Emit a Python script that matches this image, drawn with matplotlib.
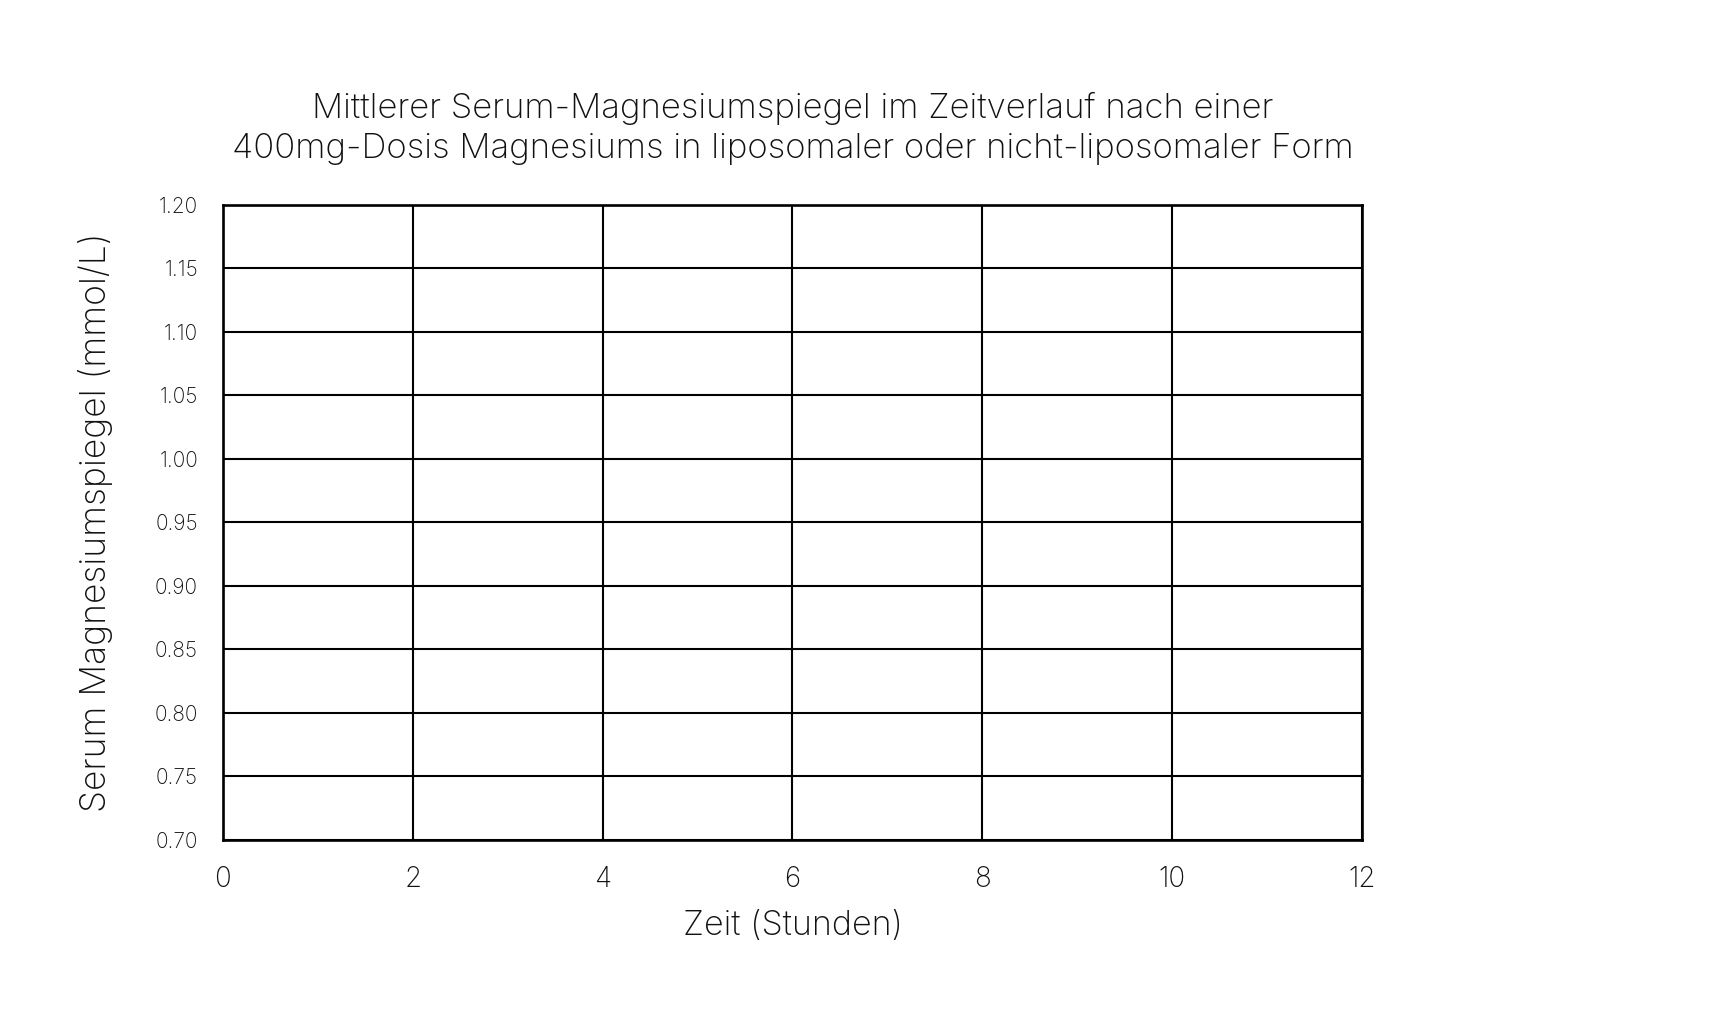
import numpy as np
import matplotlib.pyplot as plt

plt.rcParams['font.family'] = ['Inter', 'DejaVu Sans']

# Achsen und Beschriftungen
x_ticks = [0, 2, 4, 6, 8, 10, 12]
y_ticks = [0.70, 0.75, 0.80, 0.85, 0.90, 0.95, 1.00, 1.05, 1.10, 1.15, 1.20]
title = ("Mittlerer Serum-Magnesiumspiegel im Zeitverlauf nach einer\n"
         "400mg-Dosis Magnesiums in liposomaler oder nicht-liposomaler Form")
x_label = "Zeit (Stunden)"
y_label = "Serum Magnesiumspiegel (mmol/L)"

fig = plt.figure(figsize=(17.19, 10.29), dpi=100)
ax = fig.add_axes([0.1297, 0.1837, 0.6626, 0.6171])

ax.set_xlim(x_ticks[0], x_ticks[-1])
ax.set_ylim(y_ticks[0], y_ticks[-1])
ax.set_xticks(x_ticks)
ax.set_yticks(y_ticks)
ax.set_xticklabels([str(v) for v in x_ticks], fontweight='light')
ax.set_yticklabels([f"{v:.2f}" for v in y_ticks], fontweight='light')

ax.grid(True, color='black', linewidth=1.5)
ax.set_axisbelow(True)
for s in ax.spines.values():
    s.set_linewidth(1.9)
    s.set_color('black')

ax.tick_params(axis='x', length=0, pad=19, labelsize=20, colors='#111111')
ax.tick_params(axis='y', length=0, pad=18, labelsize=15, colors='#111111')

ax.set_title(title, fontsize=25, color='#111111', pad=34, linespacing=1.3,
             fontweight='light')
ax.set_xlabel(x_label, fontsize=24.5, color='#111111', labelpad=12,
              fontweight='light')
ax.set_ylabel(y_label, fontsize=25.5, color='#111111', labelpad=30,
              fontweight='light')

fig.savefig("out.png", dpi=100, facecolor='white')
